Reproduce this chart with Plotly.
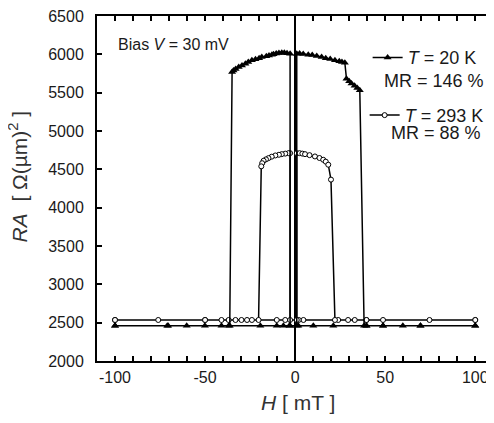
import plotly.graph_objects as go

# ---- data ----
# T = 20 K loop: sweep +100 -> -100, then -100 -> +100  (H in mT, RA in Ohm um^2)
H_20K = [100, 69.6, 59.8, 48.8, 39.6, 21.2, 10.1, 1.8, -2.8,
         -2.8, -4.5, -6, -7.4, -9, -10.5, -12, -12.9, -14.5, -16, -18.5, -20, -22, -24,
         -26, -27.6, -29.5, -31.3, -33, -34.2, -35.0,
         -36.3, -40.9, -50.1, -60.2, -70.5, -100,
         -100, -71, -36.9, -19.3, -10.2, -6.5, -3.2, 0.9,
         0.9, 2.5, 4.5, 7.3, 9.5, 12, 14.7, 17, 19.5, 22.1, 24.5, 26, 27.6,
         28.5, 30, 31.3, 33, 34.5, 35.9,
         38.3, 39.6, 48.8, 69.6, 100]
RA_20K = [2460, 2460, 2460, 2460, 2460, 2460, 2460, 2460, 2460,
          6008, 6015, 6020, 6020, 6018, 6010, 6000, 5995, 5985, 5975, 5965, 5950, 5935, 5922,
          5900, 5878, 5855, 5835, 5810, 5790, 5770,
          2460, 2460, 2460, 2460, 2460, 2460,
          2460, 2460, 2460, 2460, 2460, 2460, 2460, 2460,
          6008, 6010, 6005, 5995, 5990, 5978, 5965, 5950, 5938, 5922, 5910, 5900, 5890,
          5683, 5650, 5619, 5590, 5560, 5533,
          2460, 2460, 2460, 2460, 2460]

# T = 293 K loop
H_293K = [100, 74.6, 48.8, 39.6, 33.1, 29.4, 23.9, 4.6, 2.0, -2.8,
          -2.8, -3.7, -5.5, -7.4, -9, -11, -13, -14.8, -16.2, -17.5, -18.3, -18.8,
          -20.3, -24, -26.7, -29.8, -33.1, -36.9, -40.9, -50, -76, -100,
          -100, -50, -10.2, -5.5, 0.9,
          0.9, 2.5, 4, 5.5, 8, 11, 13.5, 15.6, 17, 18.4, 19.9,
          22.1, 39.6, 100]
RA_293K = [2535, 2535, 2535, 2535, 2535, 2535, 2535, 2535, 2535, 2535,
           4711, 4711, 4705, 4698, 4690, 4681, 4665, 4646, 4630, 4612, 4580, 4539,
           2535, 2535, 2535, 2535, 2535, 2535, 2535, 2535, 2535, 2535,
           2535, 2535, 2535, 2535, 2535,
           4711, 4711, 4705, 4698, 4685, 4668, 4648, 4625, 4600, 4560, 4366,
           2535, 2535, 2535]

x_tickvals = list(range(-100, 101, 10))
x_ticktext = ["-100", "", "", "", "", "-50", "", "", "", "", "0",
              "", "", "", "", "50", "", "", "", "", "100"]
y_tickvals = [2000, 2500, 3000, 3500, 4000, 4500, 5000, 5500, 6000, 6500]

label_20K = "<i>T</i> = 20 K"
label_293K = "<i>T</i> = 293 K"
mr_20K = "MR = 146 %"
mr_293K = "MR = 88 %"

# ---- layout helpers ----
OFF = 8                       # page body margin
W, H = 494 - OFF, 423 - OFF
L, R, T, B = 97 - OFF, 0, 14 - OFF, 62
PW, PH = W - L - R, H - T - B
FONT = "Liberation Sans, Arial, Helvetica, sans-serif"


def px(xp):
    return (xp - OFF - L) / PW


def py(yp):
    return 1 - (yp - OFF - T) / PH


def note(text, x, y, size, color="#1a1a1a", **kw):
    return dict(text=text, x=px(x), y=py(y), xref="paper", yref="paper",
                xanchor=kw.pop("xanchor", "center"), yanchor="middle",
                showarrow=False, font=dict(family=FONT, size=size, color=color), **kw)


fig = go.Figure()
fig.add_trace(go.Scatter(
    x=H_293K, y=RA_293K, mode="lines+markers", name=label_293K, legend="legend2",
    line=dict(color="black", width=1.5),
    marker=dict(symbol="circle", size=5, color="white", line=dict(color="black", width=1)),
))
fig.add_trace(go.Scatter(
    x=H_20K, y=RA_20K, mode="lines+markers", name=label_20K, legend="legend",
    line=dict(color="black", width=1.5),
    marker=dict(symbol="triangle-up", size=7, color="black"),
))

axis_common = dict(
    showline=True, linecolor="black", linewidth=2, mirror="ticks",
    ticks="inside", ticklen=5, tickwidth=1.5, tickcolor="black",
    showgrid=False, ticklabeloverflow="allow",
    tickfont=dict(family=FONT, size=16, color="#1a1a1a"),
)

fig.update_layout(
    width=W, height=H,
    margin=dict(l=L, r=R, t=T, b=B),
    paper_bgcolor="white", plot_bgcolor="white",
    font=dict(family=FONT, color="#1a1a1a"),
    showlegend=True,
    xaxis=dict(range=[-110, 109.3], tickmode="array", tickvals=x_tickvals, ticktext=x_ticktext,
               zeroline=True, zerolinecolor="black", zerolinewidth=1.5,
               ticklabelstandoff=1, **axis_common),
    yaxis=dict(range=[2000, 6500], tickmode="array", tickvals=y_tickvals,
               zeroline=False, ticklabelstandoff=8, **axis_common),
    legend=dict(x=px(369), xanchor="left", y=py(56), yanchor="middle",
                bgcolor="rgba(0,0,0,0)", borderwidth=0,
                font=dict(family=FONT, size=18, color="#1a1a1a")),
    legend2=dict(x=px(366), xanchor="left", y=py(114), yanchor="middle",
                 bgcolor="rgba(0,0,0,0)", borderwidth=0,
                 font=dict(family=FONT, size=18, color="#1a1a1a")),
    annotations=[
        note(mr_20K, 436, 79, 18),
        note(mr_293K, 438, 132, 18),
        note("Bias <i>V</i> = 30 mV", 116, 43, 16, xanchor="left"),
        note("<i>H</i> [ mT ]", 299, 403, 21, color="#333"),
        note("<i>RA</i>  [ Ω(µm)<sup>2</sup> ]", 18, 175, 21, color="#333", textangle=-90),
    ],
)

fig.write_html("out.html")
